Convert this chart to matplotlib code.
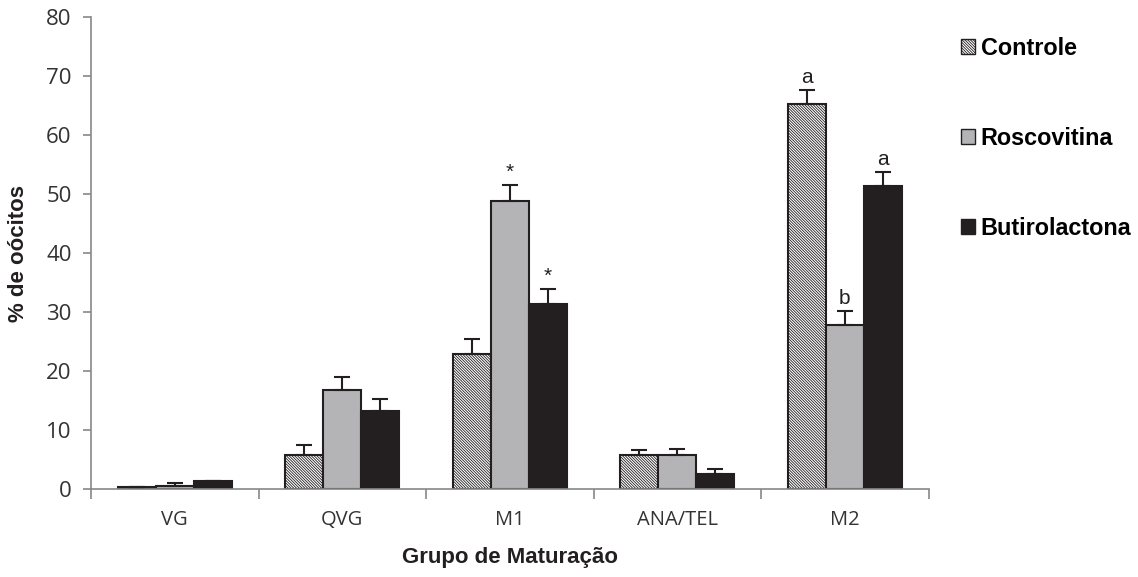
import numpy as np
import matplotlib
matplotlib.use('Agg')
import matplotlib.pyplot as plt
from matplotlib.patches import Patch

plt.rcParams['hatch.linewidth'] = 0.6

grupos = ['VG', 'QVG', 'M1', 'ANA/TEL', 'M2']
controle = [0.3, 5.7, 22.8, 5.7, 65.3]
controle_err = [0.0, 1.8, 2.6, 0.9, 2.3]
roscovitina = [0.5, 16.8, 48.9, 5.8, 27.8]
roscovitina_err = [0.5, 2.2, 2.7, 0.9, 2.4]
butirolactona = [1.3, 13.2, 31.3, 2.6, 51.3]
butirolactona_err = [0.0, 2.0, 2.6, 0.8, 2.4]

marcas = [('', '', ''), ('', '', ''), ('', '*', '*'), ('', '', ''), ('a', 'b', 'a')]

fig = plt.figure(figsize=(11.38, 5.77), dpi=100)
ax = fig.add_axes([0.080, 0.1525, 0.736, 0.818])

x = np.arange(len(grupos))
w = 0.227
series = [
    (controle, controle_err, 'white', '\\' * 12, 'Controle'),
    (roscovitina, roscovitina_err, '#b4b4b7', '', 'Roscovitina'),
    (butirolactona, butirolactona_err, '#231f20', '', 'Butirolactona'),
]
for i, (vals, errs, cor, hatch, nome) in enumerate(series):
    pos = x + (i - 1) * w
    ax.bar(pos, vals, w, color=cor, edgecolor='#231f20', linewidth=1.5,
           hatch=hatch, label=nome, zorder=2)
    ax.errorbar(pos, vals, yerr=[np.zeros(len(vals)), errs], fmt='none',
                ecolor='#231f20', elinewidth=1.5, capsize=6, capthick=1.5, zorder=3)
    for j, v in enumerate(vals):
        txt = marcas[j][i]
        if txt:
            ax.text(pos[j], v + errs[j] + 0.5, txt, ha='center', va='bottom',
                    fontsize=15, color='#231f20', family='Liberation Sans')

ax.set_xlim(-0.5, 4.5)
ax.set_ylim(0, 80)
ax.set_yticks(np.arange(0, 81, 10))
ax.set_xticks(x)
ax.set_xticklabels(grupos)
ax.set_xticks(np.arange(-0.5, 5, 1), minor=True)
ax.tick_params(axis='x', which='major', length=0, pad=15)
ax.tick_params(axis='x', which='minor', length=7, color='#888888', width=1.2)
ax.tick_params(axis='y', length=6, color='#888888', width=1.2, pad=8)
for lbl in ax.get_xticklabels():
    lbl.set_family('Open Sans')
    lbl.set_fontsize(14.5)
    lbl.set_color('#333333')
for lbl in ax.get_yticklabels():
    lbl.set_family('Open Sans')
    lbl.set_fontsize(16)
    lbl.set_color('#333333')

for s in ['top', 'right']:
    ax.spines[s].set_visible(False)
for s in ['left', 'bottom']:
    ax.spines[s].set_color('#888888')
    ax.spines[s].set_linewidth(1.2)

ax.set_ylabel('% de oócitos', fontsize=16, fontweight='bold',
              family='Liberation Sans', color='#231f20', labelpad=12)
ax.set_xlabel('Grupo de Maturação', fontsize=16, fontweight='bold',
              family='Liberation Sans', color='#231f20', labelpad=12)

handles = [Patch(facecolor=c, edgecolor='#231f20', hatch=h, linewidth=1.0)
           for _, _, c, h, _ in series]
leg = fig.legend(handles, [s[4] for s in series], loc='upper left',
                 bbox_to_anchor=(0.826, 0.973), frameon=False,
                 prop={'family': 'Liberation Sans', 'weight': 'bold', 'size': 16.8},
                 handlelength=0.6, handleheight=0.6, handletextpad=0.25,
                 labelspacing=2.87)

fig.savefig('out.png', dpi=100)
